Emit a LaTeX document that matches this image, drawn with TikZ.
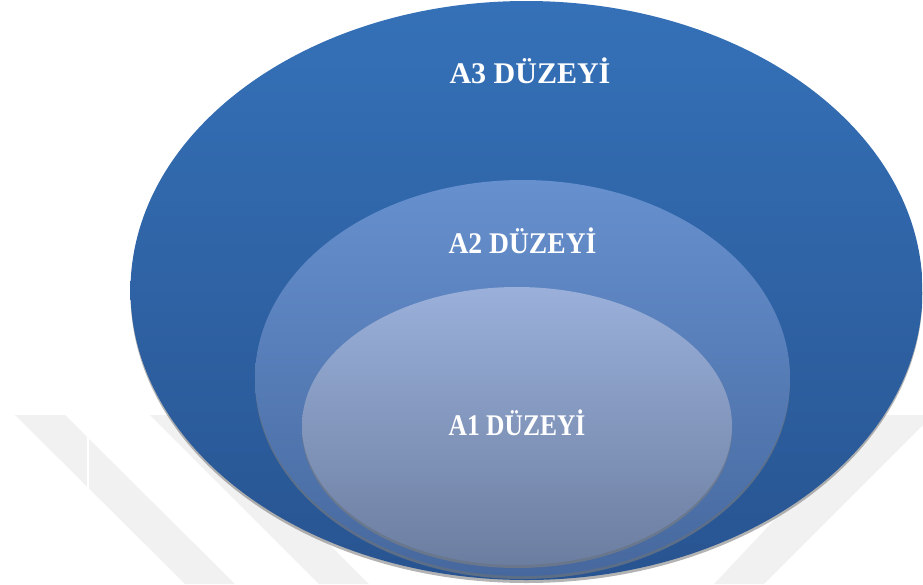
\documentclass[tikz,border=0pt]{standalone}
\usepackage{fontspec}
\setmainfont{Liberation Serif}
\usetikzlibrary{positioning,shapes.geometric,shadows}
\definecolor{mark-gray}{gray}{0.945}
\definecolor{a3-top}{RGB}{53,113,184}
\definecolor{a3-bot}{RGB}{40,84,145}
\definecolor{a2-top}{RGB}{102,144,206}
\definecolor{a2-bot}{RGB}{70,104,158}
\definecolor{a1-top}{RGB}{154,176,218}
\definecolor{a1-bot}{RGB}{108,126,160}
\tikzstyle{levelstyle}=[shape=ellipse,inner sep=0pt,outer sep=0pt,drop shadow={shadow xshift=0pt,shadow yshift=-3pt,opacity=0.6}]
\tikzstyle{labelstyle}=[text=white,font=\bfseries\fontsize{30}{36}\selectfont,inner sep=0pt,anchor=base]
\tikzstyle{markstyle}=[fill=mark-gray,draw=none]

\begin{document}
\begin{tikzpicture}[x=1pt,y=-1pt]
\useasboundingbox (0,0) rectangle (923,584);
% faint marks behind
\fill [style=markstyle] (15,415) -- (65,415) -- (235,584) -- (185,584) -- cycle; %
\fill [style=markstyle] (150,415) -- (200,415) -- (369,584) -- (319,584) -- cycle; %
\fill [style=markstyle] (873,415) -- (923,415) -- (923,425) -- (764,584) -- (714,584) -- cycle; %
\draw [white,line width=2pt] (88,430) -- (88,500); %
% levels
\node [style=levelstyle,top color=a3-top,bottom color=a3-bot,minimum width=792pt,minimum height=579pt] (a3) at (526.5,290.5) {}; %
\node [style=levelstyle,top color=a2-top,bottom color=a2-bot,minimum width=535pt,minimum height=396pt] (a2) at (522.5,378) {}; %
\node [style=levelstyle,top color=a1-top,bottom color=a1-bot,minimum width=430pt,minimum height=278pt] (a1) at (517,426) {}; %
% labels
\node [style=labelstyle] (a3lab) at ([xshift=3.5pt,yshift=-82pt]a3.north) {A3 DÜZEYİ}; %
\node [style=labelstyle,xscale=0.92] (a2lab) at ([yshift=-73pt]a2.north) {A2 DÜZEYİ}; %
\node [style=labelstyle,xscale=0.85] (a1lab) at ([yshift=-9pt]a1.center) {A1 DÜZEYİ}; %
\end{tikzpicture}
\end{document}
